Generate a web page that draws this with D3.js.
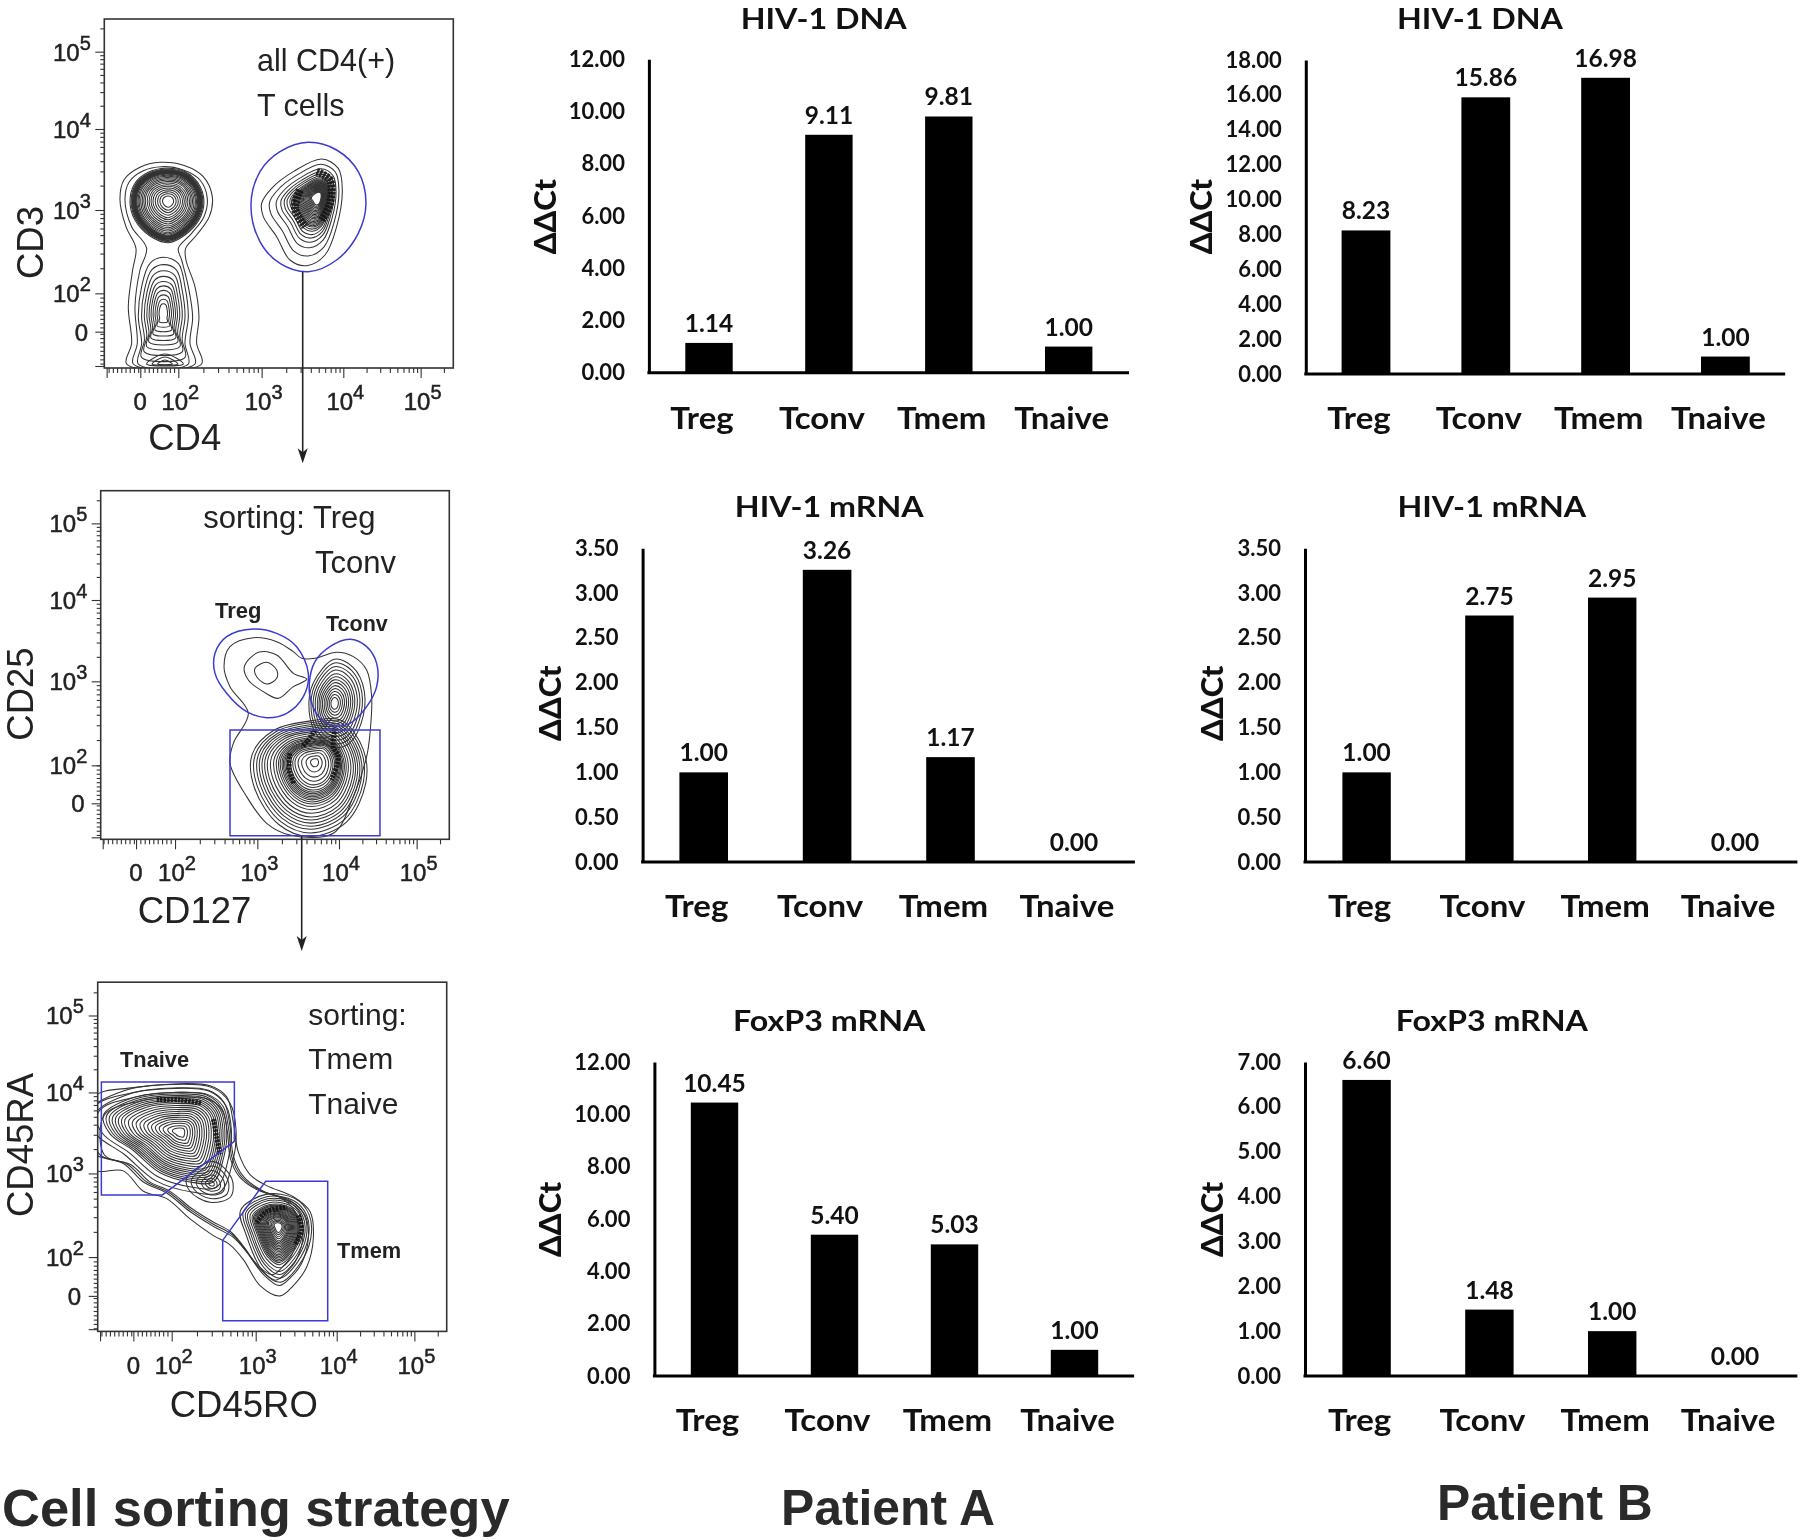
<!DOCTYPE html>
<html><head><meta charset="utf-8">
<style>
html,body{margin:0;padding:0;background:#fff}
svg{display:block;filter:blur(.35px)}
.bartxt{font-family:Lato,sans-serif;font-weight:700;fill:#111}
.flow{font-family:"Liberation Sans",Arial,sans-serif;fill:#222}
.head{font-family:"Liberation Sans",Arial,sans-serif;font-weight:700;fill:#2a2a2a}
</style></head><body>
<svg id="c" width="1801" height="1540" viewBox="0 0 1801 1540"></svg>
<script src="https://cdn.jsdelivr.net/npm/d3@7/dist/d3.min.js"></script>
<script>
// ---- bar chart data ----
const categories = ["Treg","Tconv","Tmem","Tnaive"];
const dnaA  = [1.14,9.11,9.81,1.00];
const dnaB  = [8.23,15.86,16.98,1.00];
const mrnaA = [1.00,3.26,1.17,0.00];
const mrnaB = [1.00,2.75,2.95,0.00];
const foxA  = [10.45,5.40,5.03,1.00];
const foxB  = [6.60,1.48,1.00,0.00];
const ticks12 = [0,2,4,6,8,10,12];
const ticks18 = [0,2,4,6,8,10,12,14,16,18];
const ticks35 = [0,0.5,1,1.5,2,2.5,3,3.5];
const ticks7  = [0,1,2,3,4,5,6,7];

// ---- contour plot data: traced outlines in instrument channel units ----
const oneLine = [1];
const tightRings = [1,.97,.95,.935,.92,.91,.9,.89,.88,.87,.86,.85,.84,.82,.79,.76,.72,.68,.64,.6,.55,.5,.45,.4,.34,.28,.22,.15];
const wideRings  = [1,.87,.76,.66,.57,.49,.41,.33,.25,.17];
const skewRings  = [1,.86,.74,.66,.6,.55,.5,.47,.44,.42,.4,.38,.36,.34,.32,.3,.28,.26,.24,.22,.2,.18,.16,.14,.12];
const coreRings  = [1.45,1.38,1.31,1.25,1.19,1.13,1.07,1,.93,.87,.82,.78,.74,.71,.68,.65,.62,.59,.55,.5,.45,.38,.3,.2,.1];
const evenRings  = [1.2,1.1,1,.9,.8,.72,.64,.56,.48,.4,.32,.24,.16];
const naiveRings = [1.2,1.1,1,.96,.92,.88,.84,.8,.76,.72,.67,.62,.57,.52,.47,.42,.37,.32,.27,.22,.16,.1];
const memRings   = [1.08,1,.93,.87,.8,.74,.7,.67,.64,.61,.58,.55,.52,.49,.46,.43,.4,.37,.34,.31,.28,.24,.2,.16,.12];
const smallRings = [1,.8,.6,.4,.25,.12];
const linkRings  = [1,.95,.9];

const cd3Groups = [
 {o:[[480,487],[555,497],[610,530],[637,590],[628,650],[590,705],[557,745],[558,780],[585,860],[597,950],[590,1030],[605,1092],[380,1092],[395,1030],[385,920],[398,810],[408,745],[378,680],[360,600],[372,540],[420,502]],c:[490,700],l:oneLine},
 {o:[[485,500],[550,510],[600,540],[622,595],[612,650],[575,700],[535,745],[545,780],[565,860],[578,950],[570,1030],[585,1092],[400,1092],[412,1030],[405,920],[420,810],[440,745],[395,680],[375,600],[388,545],[430,512]],c:[490,700],l:oneLine},
 {o:[[498,505],[555,515],[595,550],[612,605],[597,660],[555,705],[505,728],[450,708],[405,660],[390,605],[405,550],[445,517]],c:[505,603],l:tightRings},
 {o:[[490,772],[535,790],[555,860],[565,950],[555,1030],[565,1092],[415,1092],[425,1030],[415,950],[425,860],[450,790]],c:[490,940],l:wideRings},
 {o:[[440,1092],[495,1062],[550,1092]],c:[495,1092],l:[1,.7,.4]},
 {o:[[965,477],[1015,505],[1027,570],[1010,680],[975,765],[920,797],[870,780],[830,710],[790,650],[785,610],[815,565],[880,515]],c:[955,590],l:skewRings}
];
const cd3Strands = [[[950,515],[990,540],[990,610],[965,660]],[[900,570],[885,625],[915,680]]];
const cd3Gate = [[925,427],[1010,450],[1075,515],[1098,610],[1075,700],[1010,780],[925,815],[840,790],[780,725],[753,615],[780,515],[840,455]];

const cd25Groups = [
 {o:[[760,503],[830,515],[880,545],[905,565],[945,565],[1010,547],[1060,560],[1100,600],[1115,680],[1110,790],[1100,860],[1060,980],[1000,1090],[870,1095],[800,1060],[740,980],[690,880],[700,820],[745,730],[690,650],[672,590],[690,530]],c:[900,800],l:oneLine},
 {o:[[775,547],[830,555],[880,610],[920,628],[880,650],[835,685],[790,665],[745,630],[733,590]],c:[800,610],l:oneLine},
 {o:[[800,577],[830,600],[830,625],[800,642],[770,620],[765,595]],c:[800,610],l:oneLine},
 {o:[[1003,590],[1050,610],[1078,670],[1070,750],[1040,800],[1000,810],[960,780],[940,720],[950,650]],c:[1003,700],l:evenRings},
 {o:[[940,790],[1000,790],[1045,850],[1050,920],[1010,1000],[935,1030],[870,1005],[820,930],[815,860],[860,810]],c:[945,875],l:coreRings}
];
const cd25Strands = [[[1005,775],[1000,830],[1015,860],[995,930]],[[870,850],[868,900],[882,940]],[[945,780],[925,810],[905,830]]];
const tregGate  = [[760,477],[830,490],[890,530],[925,610],[910,680],[860,730],[800,743],[740,725],[680,670],[645,610],[645,550],[680,500]];
const tconvGate = [[1050,508],[1100,530],[1130,580],[1130,650],[1100,710],[1050,760],[1010,768],[965,750],[935,700],[928,640],[945,575],[990,530]];
const restGate  = [[690,780],[1140,780],[1140,1097],[690,1097]];

const cd45Groups = [
 {o:[[280,372],[400,345],[520,335],[630,340],[680,370],[700,440],[715,520],[750,580],[800,610],[880,640],[930,680],[940,750],[920,830],[880,880],[840,908],[780,880],[730,810],[690,770],[640,745],[570,700],[500,645],[430,625],[370,570],[280,565]],c:[600,600],l:oneLine},
 {o:[[280,400],[400,358],[520,346],[625,352],[672,385],[690,450],[700,530],[730,585],[790,625],[870,650],[915,690],[925,750],[905,820],[870,860],[838,880],[790,850],[740,790],[700,750],[640,720],[570,680],[500,630],[430,600],[370,550],[280,520]],c:[610,590],l:linkRings},
 {o:[[310,420],[400,372],[520,358],[620,365],[665,400],[680,460],[672,530],[640,600],[570,600],[480,575],[400,515],[330,470]],c:[540,465],l:naiveRings},
 {o:[[560,590],[640,545],[695,590],[692,640],[630,655],[570,625]],c:[635,605],l:smallRings},
 {o:[[800,640],[880,650],[920,690],[925,750],[890,820],[840,860],[790,830],[745,740],[730,680]],c:[835,720],l:memRings}
];
const cd45Strands = [[[470,378],[540,378],[605,388]],[[640,430],[650,480],[660,525]],[[770,710],[800,680],[860,668]],[[895,690],[905,730],[885,770]]];
const tnaiveGate = [[304,330],[703,330],[703,490],[487,635],[304,635]];
const tmemGate   = [[797,598],[983,598],[983,975],[668,975],[668,758]];

const decadeLabels = ["0","10","10","10","10"];
const decadeExp    = ["","2","3","4","5"];

// ---- layout ----
const svg = d3.select("#c");
const fmt = d3.format(".2f");
const blue = "#3b3bd0", ink = "#333";
function widen(sel,k){ sel.attr("textLength",function(){return this.getComputedTextLength()*k;}).attr("lengthAdjust","spacingAndGlyphs"); }

const barPanels = [
 {t:"HIV-1 DNA", v:dnaA, k:ticks12, ax:648.9,ex:1129, top:59.3,base:372.7, left:685.3,step:119.9,w:47.4, ty:28.5,tc:823.7, ly:429, yl:555.6,ym:216.7},
 {t:"HIV-1 DNA", v:dnaB, k:ticks18, ax:1305.8,ex:1785.2,top:60,base:374, left:1341.6,step:119.8,w:48.8, ty:28.5,tc:1480, ly:429, yl:1211.5,ym:216.7},
 {t:"HIV-1 mRNA",v:mrnaA,k:ticks35, ax:642.6,ex:1134.9,top:548.3,base:862, left:679.4,step:123.4,w:48.6, ty:517.3,tc:829.2, ly:916.7, yl:560.7,ym:703.3},
 {t:"HIV-1 mRNA",v:mrnaB,k:ticks35, ax:1305,ex:1797.4,top:548.3,base:862, left:1342.4,step:122.8,w:48.4, ty:517.3,tc:1491.8, ly:916.7, yl:1223.3,ym:703.3},
 {t:"FoxP3 mRNA",v:foxA, k:ticks12, ax:654.4,ex:1134.1,top:1062,base:1376, left:690.8,step:120,w:47.4, ty:1031,tc:829.2, ly:1431, yl:560.7,ym:1219.4},
 {t:"FoxP3 mRNA",v:foxB, k:ticks7,  ax:1305,ex:1797.4,top:1062,base:1376, left:1342.4,step:122.8,w:48.4, ty:1031,tc:1491.8, ly:1431, yl:1223.3,ym:1219.4}
];

barPanels.forEach(p=>{
  const g = svg.append("g");
  const pad=(p.step-p.w)/2;
  const x = d3.scaleBand().domain(categories).range([p.left-pad,p.left-pad+4*p.step]).paddingInner(1-p.w/p.step).paddingOuter((1-p.w/p.step)/2);
  const y = d3.scaleLinear().domain([0,d3.max(p.k)]).range([p.base,p.top]);
  g.selectAll("rect").data(p.v).join("rect")
    .attr("x",(d,i)=>x(categories[i])).attr("width",x.bandwidth())
    .attr("y",d=>y(d)).attr("height",d=>y(0)-y(d)).attr("fill","#000");
  const ya = g.append("g").attr("transform",`translate(${p.ax},0)`)
    .call(d3.axisLeft(y).tickValues(p.k).tickSize(0).tickPadding(24).tickFormat(fmt));
  ya.select(".domain").attr("stroke","#000").attr("stroke-width",3);
  ya.selectAll("text").attr("class","bartxt").style("font-size","22px").attr("fill",null).attr("dy","0.32em");
  const xa = g.append("g").attr("transform",`translate(0,${p.base})`)
    .call(d3.axisBottom(x).tickSize(0).tickPadding(0));
  xa.select(".domain").remove();
  xa.selectAll("text").attr("class","bartxt").style("font-size","30px").attr("fill",null)
    .attr("dy",0).attr("x",-7).attr("y",p.ly-p.base).call(widen,1.1);
  g.append("line").attr("x1",p.ax-1.5).attr("x2",p.ex).attr("y1",y(0)).attr("y2",y(0)).attr("stroke","#000").attr("stroke-width",3);
  g.selectAll("text.val").data(p.v).join("text").attr("class","bartxt val")
    .attr("x",(d,i)=>x(categories[i])+x.bandwidth()/2).attr("y",d=>y(d)-11)
    .attr("text-anchor","middle").style("font-size","24.5px").text(fmt);
  g.append("text").attr("class","bartxt").attr("x",p.tc).attr("y",p.ty).attr("text-anchor","middle").style("font-size","28.5px").text(p.t).call(widen,1.13);
  g.append("text").attr("class","bartxt").attr("transform",`translate(${p.yl},${p.ym}) rotate(-90)`)
    .attr("text-anchor","middle").style("font-size","31px").style("font-weight",900).text("ΔΔCt");
});

// ---- flow plots ----
const line = d3.line().curve(d3.curveCatmullRomClosed.alpha(0.5));
const strandLine = d3.line().curve(d3.curveCatmullRom.alpha(0.5));
function minorTicks(major,lo,hi){
  const out=[]; const [z,a]=major; const s=(a-z)/9;
  for(let v=z-s*0.5;(s>0?v>lo:v<lo);v-=s) out.push(v);
  for(let v=z+s;(s>0?v<a:v>a);v+=s) out.push(v);
  const dec=[...major.slice(1)];
  dec.push(2*dec[3]-dec[2]);
  for(let i=0;i<4;i++) d3.range(2,10).forEach(m=>{
    const v=dec[i]+(dec[i+1]-dec[i])*Math.log10(m);
    if(i<3||(s>0?v<hi:v>hi)) out.push(v);
  });
  return out;
}
const flowPanels = [
 {xd:[313,1360],xr:[104.3,453.3],yd:[57,1104],yr:[19,368],xt:[421,535,785,1030,1262],yt:[995,880,630,387,155],xe:[320,1355],ye:[1098,70],
  groups:cd3Groups,strands:cd3Strands,sw:8,gates:[{p:cd3Gate,c:true}],xLab:"CD4",yLab:"CD3",xlx:184.7,xly:450,ylx:43.3,yly:242.5,tickY:410,ylabX:53,
  anno:[["all CD4(+)",257,71,30.5,400],["T cells",257,115.7,30.5,400]]},
 {xd:[302,1348],xr:[100.7,449.3],yd:[62,1108],yr:[490.7,839.3],xt:[408,525,772,1017,1250],yt:[1000,886,634,390,160],xe:[308,1343],ye:[1102,75],
  groups:cd25Groups,strands:cd25Strands,sw:5,gates:[{p:tregGate,c:true},{p:tconvGate,c:true},{p:restGate,c:false}],xLab:"CD127",yLab:"CD25",xlx:194.5,xly:923.3,ylx:33.3,yly:694,tickY:881,ylabX:49.5,
  anno:[["sorting: Treg",203.3,528.3,31,400],["Tconv",315,573.3,31,400],["Treg",215,618.3,22,700],["Tconv",326,631,21.5,700]]},
 {xd:[293,1340],xr:[97.7,446.7],yd:[60,1004],yr:[982.2,1331.4],xt:[400,515,767,1010,1243],yt:[908,803,577,358,150],xe:[300,1315],ye:[998,75],
  groups:cd45Groups,strands:cd45Strands,sw:5,gates:[{p:tnaiveGate,c:false},{p:tmemGate,c:false}],xLab:"CD45RO",yLab:"CD45RA",xlx:243.8,xly:1417,ylx:33.3,yly:1145,tickY:1374,ylabX:46,
  anno:[["sorting:",308.3,1024.7,30,400],["Tmem",308.3,1069,30,400],["Tnaive",308.3,1113.5,30,400],["Tnaive",120,1066.5,21.8,700],["Tmem",337,1257.8,21.8,700]]}
];

flowPanels.forEach((p,pi)=>{
  const g=svg.append("g");
  const x=d3.scaleLinear().domain(p.xd).range(p.xr);
  const y=d3.scaleLinear().domain(p.yd).range(p.yr);
  const cid="clip"+pi;
  svg.append("clipPath").attr("id",cid).append("rect")
    .attr("x",p.xr[0]).attr("y",p.yr[0]).attr("width",p.xr[1]-p.xr[0]).attr("height",p.yr[1]-p.yr[0]);
  const plot=g.append("g").attr("clip-path",`url(#${cid})`);
  p.groups.forEach(gr=>{
    gr.l.forEach(k=>{
      const ring=gr.o.map(([a,b])=>[x(gr.c[0]+(a-gr.c[0])*k),y(gr.c[1]+(b-gr.c[1])*k)]);
      plot.append("path").attr("d",line(ring)).attr("fill","none").attr("stroke",ink).attr("stroke-width",1.05);
    });
  });
  p.strands.forEach(s=>{
    plot.append("path").attr("d",strandLine(s.map(([a,b])=>[x(a),y(b)]))).attr("fill","none").attr("stroke","#111")
      .attr("stroke-width",p.sw).attr("stroke-dasharray","2.5 1").attr("stroke-opacity",.85);
  });
  p.gates.forEach(gt=>{
    const pts=gt.p.map(([a,b])=>[x(a),y(b)]);
    const gen=gt.c?line:d3.line().curve(d3.curveLinearClosed);
    plot.append("path").attr("d",gen(pts)).attr("fill","none").attr("stroke",blue).attr("stroke-width",1.5);
  });
  g.append("rect").attr("x",p.xr[0]).attr("y",p.yr[0]).attr("width",p.xr[1]-p.xr[0]).attr("height",p.yr[1]-p.yr[0])
    .attr("fill","none").attr("stroke",ink).attr("stroke-width",1.6);
  const ax=(gen,ticks,size)=>gen.tickValues(ticks).tickSize(size).tickFormat("");
  const styl=s=>{s.select(".domain").remove();s.selectAll("line").attr("stroke",ink).attr("stroke-width",1.1);};
  g.append("g").attr("transform",`translate(0,${p.yr[1]})`).call(ax(d3.axisBottom(x),[...p.xt,p.xe[0]],10)).call(styl);
  g.append("g").attr("transform",`translate(0,${p.yr[1]})`).call(ax(d3.axisBottom(x),minorTicks(p.xt,p.xe[0],p.xe[1]),5)).call(styl);
  g.append("g").attr("transform",`translate(${p.xr[0]},0)`).call(ax(d3.axisLeft(y),[...p.yt,p.ye[0]],9)).call(styl);
  g.append("g").attr("transform",`translate(${p.xr[0]},0)`).call(ax(d3.axisLeft(y),minorTicks(p.yt,p.ye[0],p.ye[1]),4)).call(styl);
  p.xt.forEach((v,i)=>{
    const t=g.append("text").attr("class","flow").attr("x",x(v)+(i?2:0)).attr("y",p.tickY).attr("text-anchor","middle")
      .style("font-size","24px").attr("stroke","#222").attr("stroke-width",.5);
    t.append("tspan").text(decadeLabels[i]);
    if(decadeExp[i]) {t.append("tspan").attr("dy",-11).style("font-size","20px").text(decadeExp[i]);}
  });
  p.yt.forEach((v,i)=>{
    const t=g.append("text").attr("class","flow").attr("y",y(v)+9).style("font-size","24px").attr("stroke","#222").attr("stroke-width",.5);
    if(i===0){t.attr("x",p.ylabX+35).attr("text-anchor","end").text(decadeLabels[0]);}
    else{t.attr("x",p.ylabX);t.append("tspan").text(decadeLabels[i]);t.append("tspan").attr("dy",-11).style("font-size","20px").text(decadeExp[i]);}
  });
  g.append("text").attr("class","flow").attr("x",p.xlx).attr("y",p.xly).attr("text-anchor","middle").style("font-size","36.5px").text(p.xLab);
  g.append("text").attr("class","flow").attr("transform",`translate(${p.ylx},${p.yly}) rotate(-90)`).attr("text-anchor","middle").style("font-size","36.5px").text(p.yLab);
  p.anno.forEach(([s,tx,ty,fs,w])=>{
    g.append("text").attr("class","flow").attr("x",tx).attr("y",ty).style("font-size",fs+"px").style("font-weight",w).text(s);
  });
});

const arrowRuns = [[302.7,271.7,463.3],[301.7,836,951]];
arrowRuns.forEach(([ax,y0,y1])=>{
  svg.append("line").attr("x1",ax).attr("x2",ax).attr("y1",y0).attr("y2",y1-6).attr("stroke","#222").attr("stroke-width",1.6);
  svg.append("path").attr("d",d3.line()([[ax-5,y1-15],[ax,y1-11],[ax+5,y1-15],[ax,y1]])+"Z").attr("fill","#222");
});

[["Cell sorting strategy",2,1526,"start",52.5],["Patient A",888,1525,"middle",49.8],["Patient B",1544.9,1520,"middle",49.8]]
 .forEach(([s,tx,ty,an,fs])=>svg.append("text").attr("class","head").attr("x",tx).attr("y",ty).attr("text-anchor",an).style("font-size",fs+"px").text(s));
</script>
</body></html>
